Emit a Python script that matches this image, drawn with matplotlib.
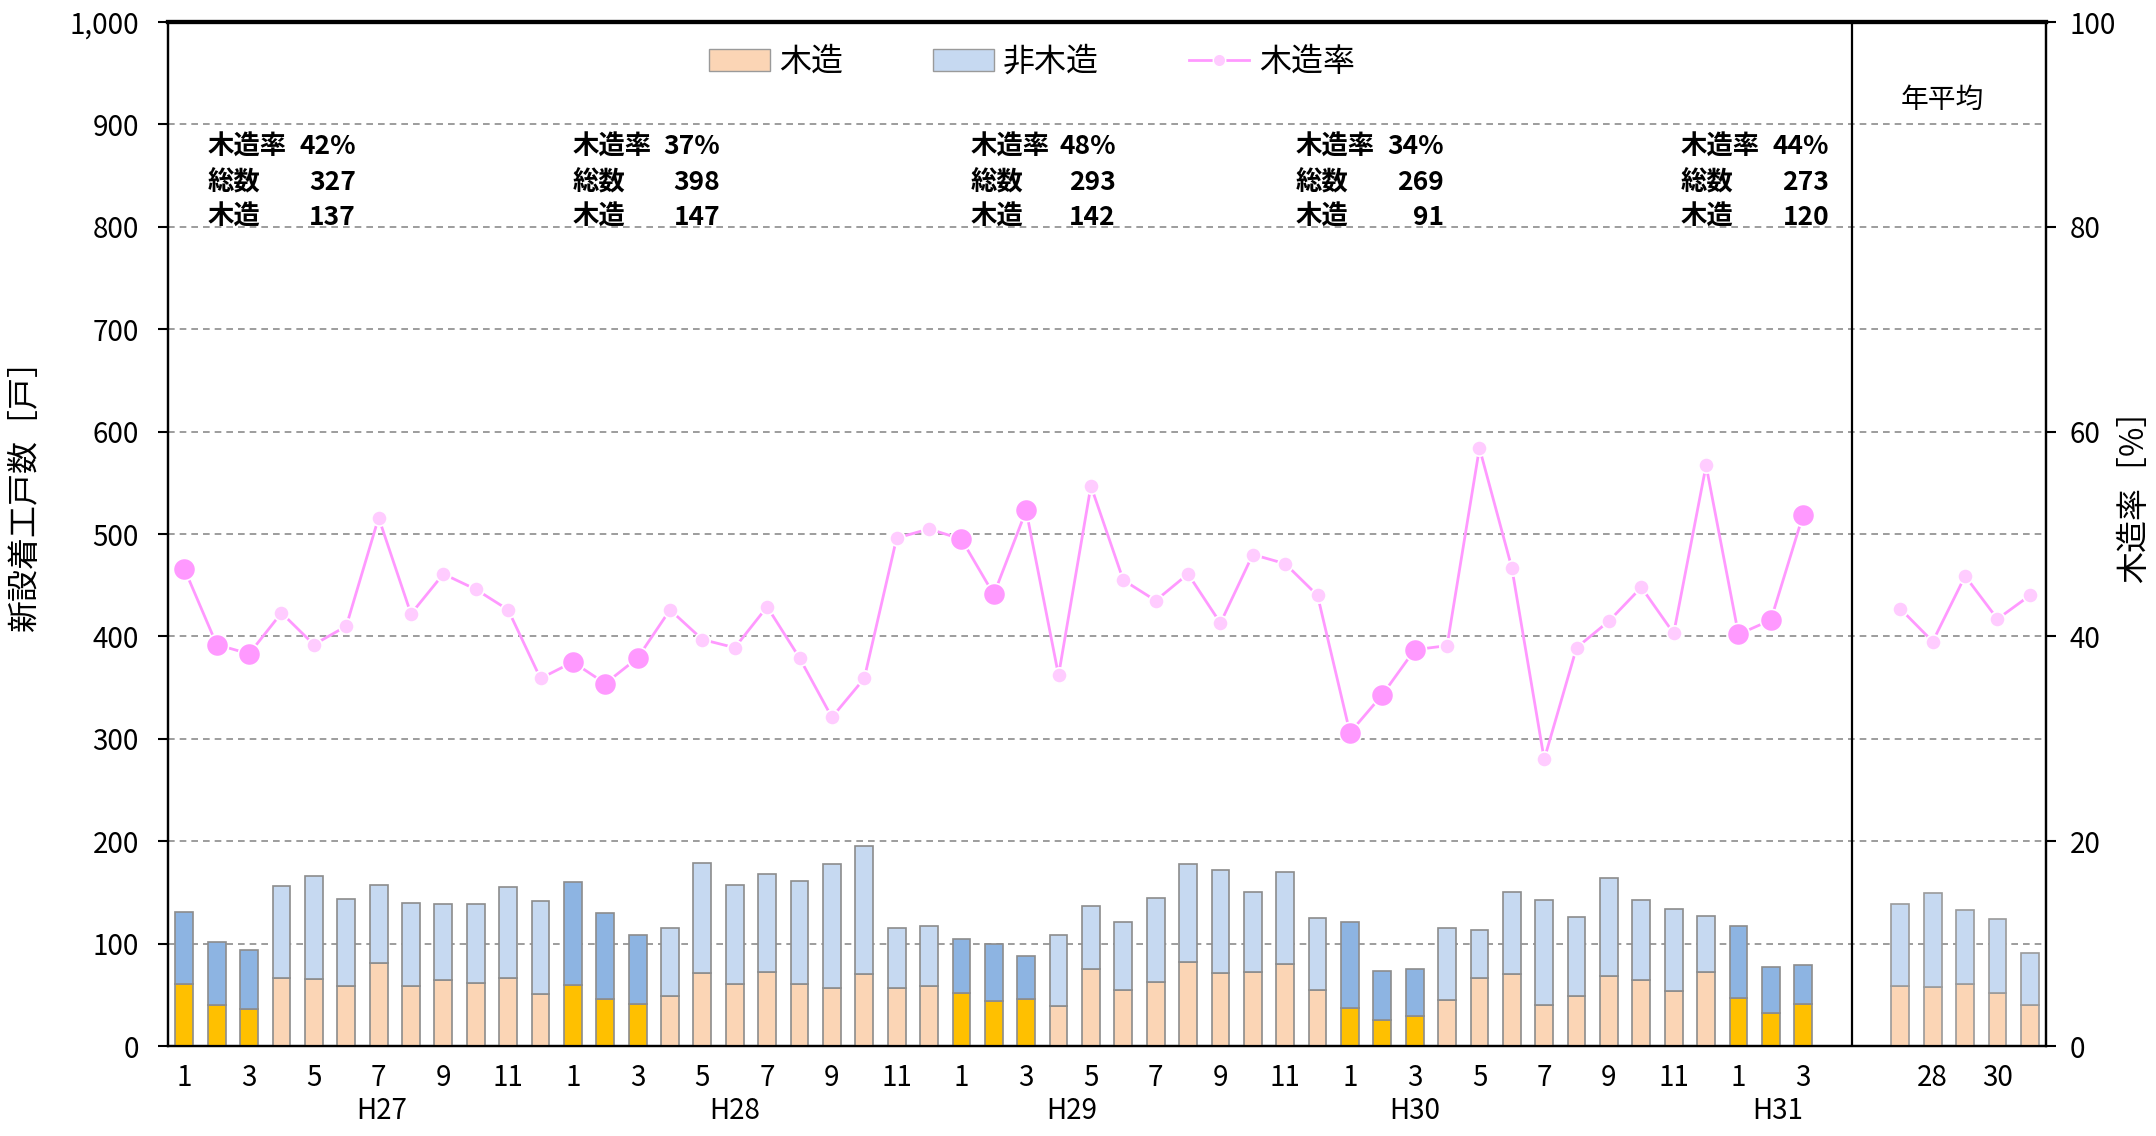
import numpy as np
import matplotlib
matplotlib.use("Agg")
import matplotlib.pyplot as plt
from matplotlib.lines import Line2D
from matplotlib.patches import Patch

plt.rcParams['font.family'] = ['Noto Sans CJK JP', 'DejaVu Sans']

# --- データ (月別: H27.1 ～ H31.3) ---
months = [1, 2, 3, 4, 5, 6, 7, 8, 9, 10, 11, 12] * 4 + [1, 2, 3]
year_names = ['H27', 'H28', 'H29', 'H30', 'H31']

wood = [61, 40, 36, 66, 65, 59, 81, 59, 64, 62, 66, 51,
        60, 46, 41, 49, 71, 61, 72, 61, 57, 70, 57, 59,
        52, 44, 46, 39, 75, 55, 63, 82, 71, 72, 80, 55,
        37, 25, 29, 45, 66, 70, 40, 49, 68, 64, 54, 72,
        47, 32, 41]
nonwood = [70, 62, 58, 90, 101, 85, 76, 81, 75, 77, 89, 91,
           100, 84, 67, 66, 108, 96, 96, 100, 121, 125, 58, 58,
           53, 56, 42, 69, 62, 66, 82, 96, 101, 78, 90, 70,
           84, 48, 46, 70, 47, 80, 103, 77, 96, 79, 80, 55,
           70, 45, 38]
rate = [46.6, 39.2, 38.3, 42.3, 39.2, 41.0, 51.6, 42.2, 46.1, 44.6, 42.6, 35.9,
        37.5, 35.4, 37.9, 42.6, 39.7, 38.9, 42.9, 37.9, 32.1, 35.9, 49.6, 50.5,
        49.5, 44.1, 52.3, 36.2, 54.7, 45.5, 43.5, 46.1, 41.3, 48.0, 47.1, 44.0,
        30.6, 34.3, 38.7, 39.1, 58.4, 46.7, 28.0, 38.9, 41.5, 44.8, 40.3, 56.7,
        40.2, 41.6, 51.9]

# --- 年平均 ---
avg_labels = ['', '28', '', '30', '']
avg_wood = [59, 58, 61, 52, 40]
avg_nonwood = [80, 91, 72, 72, 51]
avg_rate = [42.7, 39.5, 45.9, 41.7, 44.0]

# --- 1～3月集計 ---
q_rate = ['42%', '37%', '48%', '34%', '44%']
q_total = ['327', '398', '293', '269', '273']
q_wood = ['137', '147', '142', '91', '120']

# 色
C_WOOD = '#FBD5B5'
C_WOOD_HI = '#FFC000'
C_NON = '#C6D9F1'
C_NON_HI = '#8DB4E2'
C_LINE = '#FF99FF'
C_MK = '#FFCCFF'

x = np.arange(len(months))
x_avg = np.arange(5) + len(months) + 2
hi = np.array([m <= 3 for m in months])

fig = plt.figure(figsize=(21.56, 11.36), dpi=100)
ax = fig.add_axes([0.078, 0.0792, 0.871, 0.9014])
ax2 = ax.twinx()

w = 0.55
ax.bar(x, wood, w, color=np.where(hi, C_WOOD_HI, C_WOOD), edgecolor='#8c8c8c', lw=1.2, zorder=3)
ax.bar(x, nonwood, w, bottom=wood, color=np.where(hi, C_NON_HI, C_NON), edgecolor='#8c8c8c', lw=1.2, zorder=3)
ax.bar(x_avg, avg_wood, w, color=C_WOOD, edgecolor='#9a9a9a', lw=1.2, zorder=3)
ax.bar(x_avg, avg_nonwood, w, bottom=avg_wood, color=C_NON, edgecolor='#9a9a9a', lw=1.2, zorder=3)

ax.set_ylim(0, 1000)
ax.set_yticks(np.arange(0, 1001, 100))
ax.set_yticklabels([f'{v:,}' for v in range(0, 1001, 100)])
for v in range(100, 1000, 100):
    ax.axhline(v, color='#8c8c8c', ls=(0, (4, 3)), lw=1.2, zorder=1)
ax.set_xlim(-0.5, 57.5)
ax.axvline(len(months) + 0.5, color='black', lw=1.6, zorder=2)

ticks = [i for i, m in enumerate(months) if m % 2 == 1] + list(x_avg)
tlabels = [str(months[i]) for i in ticks[:-5]] + avg_labels
ax.set_xticks(ticks)
ax.set_xticklabels(tlabels)
ax.tick_params(axis='x', length=0, pad=12, labelsize=20)
ax.tick_params(axis='y', direction='out', length=7, width=1.5, pad=14, labelsize=20)

# 年ラベル
year_pos = [6.1, 17.0, 27.4, 38.0, 49.2]
for xp, name in zip(year_pos, year_names):
    ax.text(xp, -0.063, name, transform=ax.get_xaxis_transform(), ha='center', va='center', fontsize=20)

# 木造率
rate_arr = np.array(rate)
ax2.plot(x, rate, color=C_LINE, lw=2, zorder=4)
ax2.plot(x[~hi], rate_arr[~hi], 'o', ms=11, color=C_MK, mec='white', mew=1.2, zorder=5)
ax2.plot(x[hi], rate_arr[hi], 'o', ms=16, color=C_LINE, mec='white', mew=1.2, zorder=5)
ax2.plot(x_avg, avg_rate, color=C_LINE, lw=2, zorder=4)
ax2.plot(x_avg, avg_rate, 'o', ms=11, color=C_MK, mec='white', mew=1.2, zorder=5)
ax2.set_ylim(0, 100)
ax2.set_yticks(np.arange(0, 101, 20))
ax2.tick_params(axis='y', direction='out', length=7, width=1.5, pad=10, labelsize=20)

for s in ['left', 'right', 'bottom']:
    ax.spines[s].set_linewidth(1.6)
    ax2.spines[s].set_linewidth(1.6)
ax.spines['top'].set_linewidth(3)
ax2.spines['top'].set_linewidth(3)

# 1～3月の注記
lab_x = [0.72, 12.0, 24.27, 34.33, 46.2]
val_x = [5.3, 16.55, 28.77, 38.9, 50.8]
for i in range(5):
    for yv, lab, val in [(878, '木造率', q_rate[i]), (843, '総数', q_total[i]), (809, '木造', q_wood[i])]:
        ax.text(lab_x[i], yv, lab, ha='left', va='center', fontsize=19, fontweight='bold', zorder=6)
        ax.text(val_x[i], yv, val, ha='right', va='center', fontsize=19, fontweight='bold', zorder=6)

ax.text(54.3, 924, '年平均', ha='center', va='center', fontsize=20)

handles = [Patch(facecolor=C_WOOD, edgecolor='#9a9a9a', label='木造'),
           Patch(facecolor=C_NON, edgecolor='#9a9a9a', label='非木造'),
           Line2D([], [], color=C_LINE, lw=2, marker='o', ms=9, mfc=C_MK, mec='white', label='木造率')]
ax2.legend(handles=handles, loc='center', bbox_to_anchor=(0.46, 0.961), ncol=3, frameon=False,
           fontsize=23, columnspacing=2.8, handlelength=1.9, handletextpad=0.3)

fig.text(0.0118, 0.57, '新設着工戸数［戸］', rotation=90, ha='center', va='center', fontsize=23)
fig.text(0.99, 0.57, '木造率［%］', rotation=90, ha='center', va='center', fontsize=23)

fig.savefig('out.png', dpi=100)
